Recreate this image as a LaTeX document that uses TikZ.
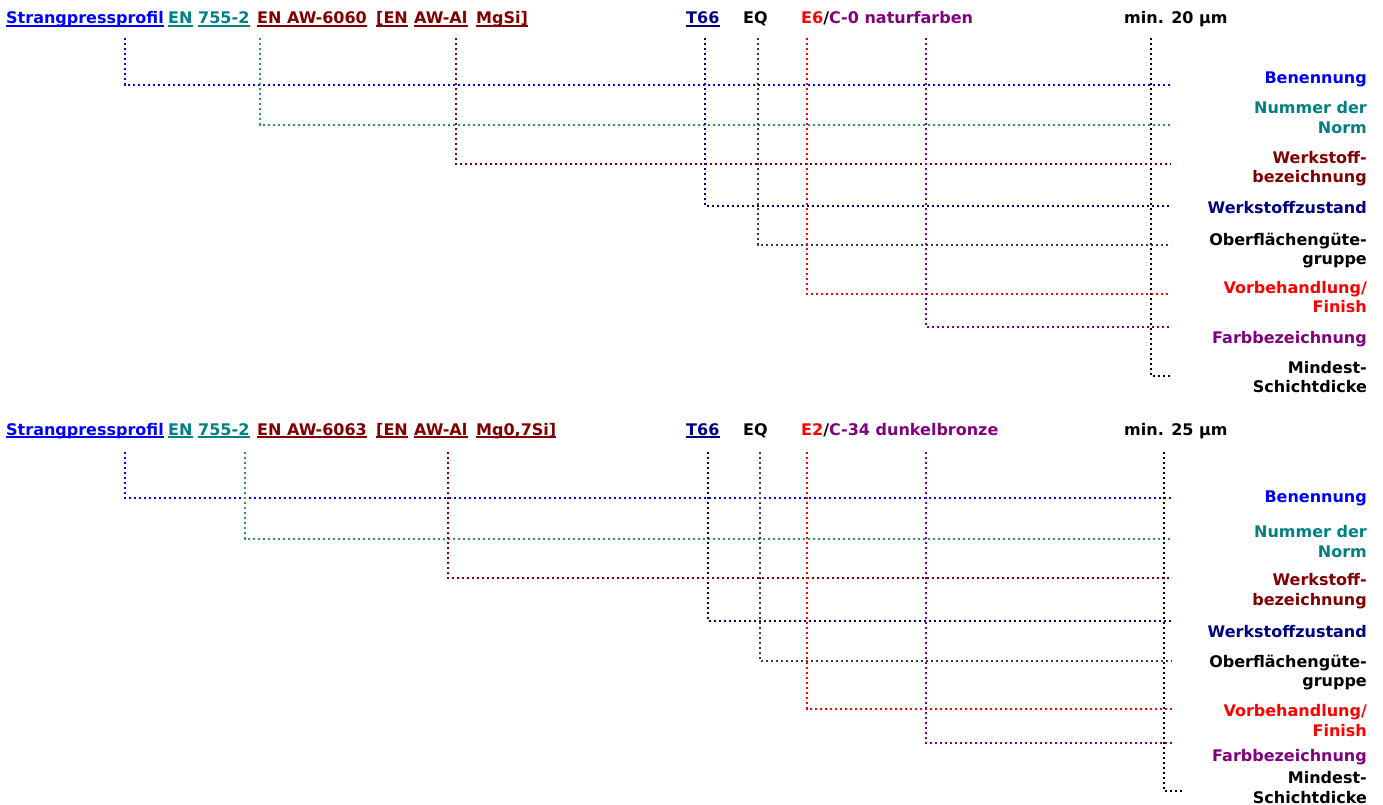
\documentclass[tikz,border=0pt]{standalone}
\usepackage{fontspec}
\setmainfont{DejaVu Sans}
\usetikzlibrary{calc}
\definecolor{cblue}{RGB}{0,0,255}
\definecolor{cteal}{RGB}{0,128,128}
\definecolor{cmaroon}{RGB}{128,0,0}
\definecolor{cnavy}{RGB}{0,0,128}
\definecolor{cpurple}{RGB}{128,0,128}
\definecolor{cred}{RGB}{255,0,0}
\definecolor{cgreen}{RGB}{46,150,100}
\definecolor{cgray}{RGB}{60,60,60}
\begin{document}
\begin{tikzpicture}[x=1pt,y=-1pt,
  word/.style={anchor=base west,inner sep=0pt,font=\bfseries\fontsize{16}{19.5}\selectfont},
  lbl/.style={anchor=base east,inner sep=0pt,align=right,font=\bfseries\fontsize{16}{19.5}\selectfont},
  conn/.style={line width=2.2pt,dash pattern=on 2.2pt off 2.8pt},
  uline/.style={line width=1.5pt}]
\useasboundingbox (0,0) rectangle (1383,805);

% ---------- top row ----------
\node[word,text=cblue]   (a1) at (6,24)    {Strangpressprofil};
\node[word,text=cteal]   (a2) at (168,24)  {EN};
\node[word,text=cteal]   (a3) at (198,24)  {755-2};
\node[word,text=cmaroon] (a4) at (257,24)  {EN AW-6060};
\node[word,text=cmaroon] (a5) at (376,24)  {[EN};
\node[word,text=cmaroon] (a6) at (414,24)  {AW-Al};
\node[word,text=cmaroon] (a7) at (476,24)  {MgSi]};
\node[word,text=cnavy]   (a8) at (686,24)  {T66};
\node[word]              (a9) at (743,24)  {EQ};
\node[word]              (a10) at (801,24) {\textcolor{cred}{E6}/\textcolor{cpurple}{C-0 naturfarben}};
\node[word]              (a11) at (1124,24) {min. 20 µm};
\foreach \n/\c in {a1/cblue,a2/cteal,a3/cteal,a4/cmaroon,a5/cmaroon,a6/cmaroon,a7/cmaroon,a8/cnavy}
  \draw[uline,\c] ($(\n.base west)+(0,2.2)$) -- ($(\n.base east)+(0,2.2)$);

% base anchor of a two-line label = baseline of its last line
\node[lbl,text=cblue]   (b1) at (1367,84)    {Benennung};
\node[lbl,text=cteal]   (b2) at (1367,133.5) {Nummer der\\Norm};
\node[lbl,text=cmaroon] (b3) at (1367,182.5) {Werkstoff-\\bezeichnung};
\node[lbl,text=cnavy]   (b4) at (1367,213)   {Werkstoffzustand};
\node[lbl]              (b5) at (1367,264.5) {Oberflächengüte-\\gruppe};
\node[lbl,text=cred]    (b6) at (1367,312.5) {Vorbehandlung/\\Finish};
\node[lbl,text=cpurple] (b7) at (1367,343)   {Farbbezeichnung};
\node[lbl]              (b8) at (1367,392.5) {Mindest-\\Schichtdicke};

\foreach \i/\x/\y/\c in {1/125/85/cblue,2/260/125/cgreen,3/456/164/cmaroon,4/705/206/cnavy,5/758/245/cgray,6/807/294/cred,7/926/327/cpurple}{
  \coordinate (ta\i) at (\x,38);
  \coordinate (ea\i) at (1171,\y);
  \draw[conn,\c] (ta\i) |- (ea\i);
}
\coordinate (ta8) at (1151,38);
\coordinate (ea8) at (1170,376);
\draw[conn,black] (ta8) |- (ea8);

% ---------- bottom row ----------
\node[word,text=cblue]   (c1) at (6,435)    {Strangpressprofil};
\node[word,text=cteal]   (c2) at (168,435)  {EN};
\node[word,text=cteal]   (c3) at (198,435)  {755-2};
\node[word,text=cmaroon] (c4) at (257,435)  {EN AW-6063};
\node[word,text=cmaroon] (c5) at (376,435)  {[EN};
\node[word,text=cmaroon] (c6) at (414,435)  {AW-Al};
\node[word,text=cmaroon] (c7) at (476,435)  {Mg0,7Si]};
\node[word,text=cnavy]   (c8) at (686,435)  {T66};
\node[word]              (c9) at (743,435)  {EQ};
\node[word]              (c10) at (801,435) {\textcolor{cred}{E2}/\textcolor{cpurple}{C-34 dunkelbronze}};
\node[word]              (c11) at (1124,435) {min. 25 µm};
\foreach \n/\c in {c1/cblue,c2/cteal,c3/cteal,c4/cmaroon,c5/cmaroon,c6/cmaroon,c7/cmaroon,c8/cnavy}
  \draw[uline,\c] ($(\n.base west)+(0,2.2)$) -- ($(\n.base east)+(0,2.2)$);

\node[lbl,text=cblue]   (d1) at (1367,502)   {Benennung};
\node[lbl,text=cteal]   (d2) at (1367,557)   {Nummer der\\Norm};
\node[lbl,text=cmaroon] (d3) at (1367,605)   {Werkstoff-\\bezeichnung};
\node[lbl,text=cnavy]   (d4) at (1367,637)   {Werkstoffzustand};
\node[lbl]              (d5) at (1367,686.5) {Oberflächengüte-\\gruppe};
\node[lbl,text=cred]    (d6) at (1367,736)   {Vorbehandlung/\\Finish};
\node[lbl,text=cpurple] (d7) at (1367,761)   {Farbbezeichnung};
\node[lbl]              (d8) at (1367,803)   {Mindest-\\Schichtdicke};

\foreach \i/\x/\y/\c in {1/125/498/cblue,2/245/539/cgreen,3/448/578/cmaroon,4/708/621/cnavy,5/760/661/cgray,6/807/709/cred,7/926/743/cpurple}{
  \coordinate (tc\i) at (\x,452);
  \coordinate (ec\i) at (1172,\y);
  \draw[conn,\c] (tc\i) |- (ec\i);
}
\coordinate (tc8) at (1164,452);
\coordinate (ec8) at (1182,791);
\draw[conn,black] (tc8) |- (ec8);
\end{tikzpicture}
\end{document}
